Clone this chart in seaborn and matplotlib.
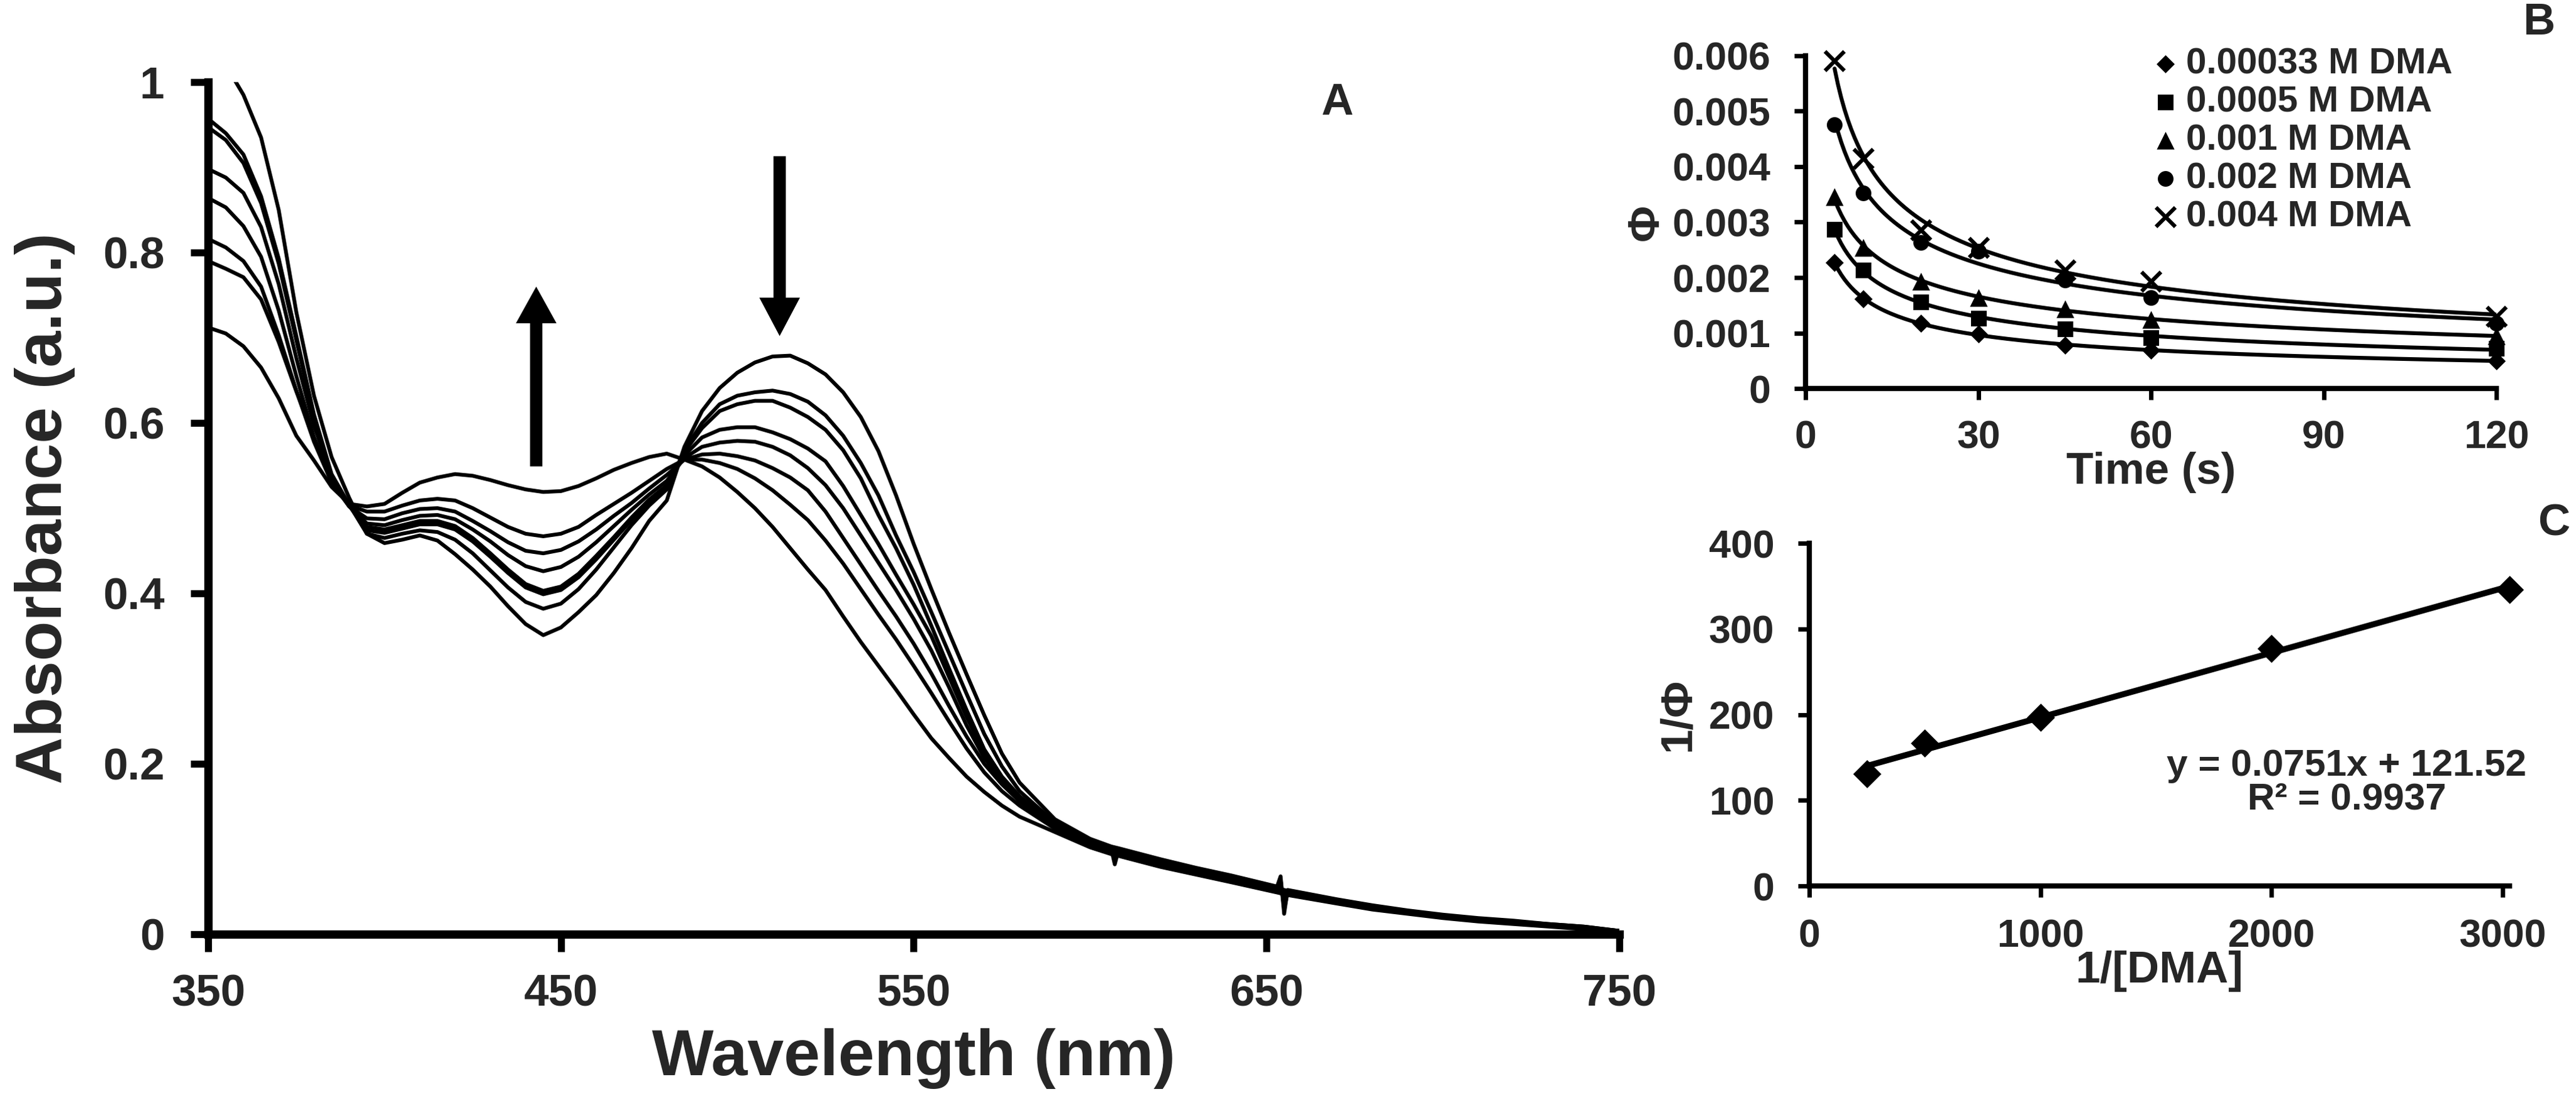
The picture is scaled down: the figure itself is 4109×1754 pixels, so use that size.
import numpy as np
import pandas as pd
import matplotlib
matplotlib.use("Agg")
import matplotlib.pyplot as plt
import seaborn as sns

# =====================================================
# DATA
# =====================================================

# panel A: absorption spectra (8 scans)
wavelength = [350, 355, 360, 365, 370, 375, 380, 385, 390, 395, 400, 405, 410, 415,
              420, 425, 430, 435, 440, 445, 450, 455, 460, 465, 470, 475, 480, 485,
              490, 495, 500, 505, 510, 515, 520, 525, 530, 535, 540, 545, 550, 555,
              560, 565, 570, 575, 580, 590, 600, 606, 607, 608, 620, 630, 640, 653,
              654, 655, 656, 670, 680, 690, 700, 710, 720, 730, 740, 750]

scan_0 = [1.035, 1.02, 0.985, 0.935, 0.850, 0.730, 0.632, 0.560, 0.512,
          0.470, 0.459, 0.463, 0.468, 0.462, 0.446, 0.428, 0.408, 0.385, 0.364, 0.351, 0.360,
          0.378, 0.398, 0.424, 0.453, 0.485, 0.509,
          0.572, 0.614, 0.641, 0.659, 0.671, 0.678, 0.679, 0.670, 0.657, 0.636, 0.607, 0.567,
          0.515, 0.458, 0.405, 0.354, 0.305, 0.257, 0.212, 0.178,
          0.135, 0.112, 0.103, 0.102, 0.101, 0.088, 0.078, 0.069, 0.056, 0.068, 0.024, 0.052,
          0.041, 0.034, 0.028, 0.023, 0.019, 0.016, 0.012, 0.009, 0.004]
scan_1 = [0.957, 0.940, 0.915, 0.866, 0.793, 0.702, 0.610, 0.540, 0.504,
          0.470, 0.465, 0.470, 0.474, 0.472, 0.463, 0.447, 0.427, 0.407, 0.390, 0.382, 0.388,
          0.405, 0.428, 0.454, 0.480, 0.503, 0.522,
          0.568, 0.600, 0.622, 0.632, 0.636, 0.638, 0.634, 0.625, 0.609, 0.585, 0.553, 0.515,
          0.468, 0.425, 0.378, 0.330, 0.282, 0.235, 0.197, 0.168,
          0.131, 0.110, 0.101, 0.100, 0.099, 0.086, 0.076, 0.067, 0.054, 0.053, 0.052, 0.051,
          0.040, 0.033, 0.027, 0.022, 0.018, 0.015, 0.012, 0.009, 0.004]
scan_2 = [0.947, 0.932, 0.905, 0.858, 0.787, 0.697, 0.607, 0.538, 0.503,
          0.474, 0.471, 0.476, 0.481, 0.481, 0.475, 0.461, 0.443, 0.424, 0.407, 0.399, 0.404,
          0.419, 0.440, 0.463, 0.486, 0.508, 0.525,
          0.566, 0.594, 0.614, 0.622, 0.626, 0.626, 0.618, 0.607, 0.592, 0.568, 0.535, 0.492,
          0.453, 0.410, 0.362, 0.312, 0.263, 0.217, 0.185, 0.162,
          0.129, 0.109, 0.100, 0.082, 0.098, 0.085, 0.075, 0.066, 0.053, 0.052, 0.051, 0.050,
          0.039, 0.032, 0.026, 0.022, 0.018, 0.015, 0.011, 0.008, 0.004]
scan_3 = [0.898, 0.888, 0.870, 0.830, 0.763, 0.676, 0.597, 0.538, 0.503,
          0.478, 0.475, 0.480, 0.485, 0.485, 0.479, 0.465, 0.447, 0.428, 0.411, 0.403, 0.408,
          0.423, 0.444, 0.466, 0.489, 0.510, 0.527,
          0.562, 0.583, 0.592, 0.595, 0.595, 0.589, 0.581, 0.570, 0.555, 0.526, 0.492, 0.458,
          0.422, 0.387, 0.350, 0.302, 0.255, 0.213, 0.183, 0.160,
          0.128, 0.108, 0.099, 0.098, 0.097, 0.084, 0.074, 0.065, 0.053, 0.064, 0.030, 0.049,
          0.039, 0.032, 0.026, 0.021, 0.017, 0.014, 0.011, 0.008, 0.003]
scan_4 = [0.864, 0.853, 0.831, 0.795, 0.732, 0.655, 0.583, 0.532, 0.502,
          0.482, 0.480, 0.486, 0.491, 0.492, 0.487, 0.475, 0.461, 0.445, 0.432, 0.426, 0.431,
          0.443, 0.460, 0.479, 0.498, 0.516, 0.532,
          0.559, 0.572, 0.577, 0.579, 0.578, 0.572, 0.562, 0.547, 0.527, 0.500, 0.468, 0.436,
          0.404, 0.370, 0.333, 0.290, 0.245, 0.207, 0.180, 0.158,
          0.127, 0.107, 0.098, 0.097, 0.096, 0.083, 0.073, 0.064, 0.052, 0.051, 0.050, 0.049,
          0.038, 0.031, 0.025, 0.021, 0.017, 0.014, 0.011, 0.008, 0.003]
scan_5 = [0.816, 0.806, 0.790, 0.760, 0.703, 0.638, 0.578, 0.530, 0.502,
          0.488, 0.487, 0.494, 0.499, 0.500, 0.496, 0.485, 0.473, 0.460, 0.450, 0.447, 0.451,
          0.461, 0.475, 0.491, 0.506, 0.523, 0.539,
          0.557, 0.563, 0.564, 0.561, 0.556, 0.547, 0.536, 0.521, 0.496, 0.465, 0.434, 0.403,
          0.373, 0.341, 0.306, 0.268, 0.232, 0.200, 0.176, 0.156,
          0.126, 0.106, 0.097, 0.088, 0.095, 0.082, 0.073, 0.064, 0.051, 0.058, 0.036, 0.048,
          0.038, 0.031, 0.025, 0.021, 0.017, 0.013, 0.010, 0.007, 0.003]
scan_6 = [0.790, 0.781, 0.771, 0.745, 0.695, 0.637, 0.583, 0.531, 0.503,
          0.496, 0.496, 0.503, 0.509, 0.511, 0.509, 0.500, 0.489, 0.478, 0.470, 0.467, 0.470,
          0.478, 0.492, 0.505, 0.518, 0.532, 0.546,
          0.557, 0.557, 0.553, 0.546, 0.535, 0.521, 0.504, 0.486, 0.462, 0.435, 0.405, 0.375,
          0.346, 0.315, 0.283, 0.250, 0.218, 0.190, 0.168, 0.151,
          0.124, 0.105, 0.096, 0.095, 0.094, 0.081, 0.072, 0.063, 0.051, 0.050, 0.049, 0.048,
          0.037, 0.030, 0.025, 0.020, 0.016, 0.013, 0.010, 0.007, 0.003]
scan_7 = [0.712, 0.705, 0.690, 0.665, 0.629, 0.585, 0.556, 0.525, 0.505,
          0.502, 0.505, 0.518, 0.530, 0.536, 0.540, 0.538, 0.533, 0.527, 0.522, 0.519, 0.520,
          0.526, 0.535, 0.545, 0.553, 0.560, 0.564,
          0.557, 0.549, 0.536, 0.519, 0.500, 0.478, 0.453, 0.428, 0.404, 0.373, 0.343, 0.315,
          0.287, 0.258, 0.230, 0.207, 0.185, 0.167, 0.151, 0.138,
          0.120, 0.102, 0.094, 0.093, 0.092, 0.079, 0.070, 0.061, 0.049, 0.048, 0.047, 0.046,
          0.036, 0.029, 0.024, 0.019, 0.015, 0.012, 0.009, 0.006, 0.002]

# panel B: quantum yield vs time
time_s = [5, 10, 20, 30, 45, 60, 120]
phi_00033 = [0.00227, 0.00162, 0.00117, 0.00098, 0.00078, 0.00069, 0.00050]
phi_0005 = [0.00287, 0.00213, 0.00156, 0.00127, 0.00107, 0.00092, 0.00072]
phi_001 = [0.00346, 0.00254, 0.00193, 0.00164, 0.00144, 0.00124, 0.00095]
phi_002 = [0.00476, 0.00352, 0.00263, 0.00248, 0.00196, 0.00164, 0.00118]
phi_004 = [0.00591, 0.00415, 0.00286, 0.00254, 0.00213, 0.00193, 0.00130]
dma_labels = ["0.00033 M DMA", "0.0005 M DMA", "0.001 M DMA", "0.002 M DMA", "0.004 M DMA"]
phi_yticklabels = ["0", "0.001", "0.002", "0.003", "0.004", "0.005", "0.006"]

# panel C: double reciprocal plot
inv_dma = [250, 500, 1000, 2000, 3030]
inv_phi = [131, 167, 197, 277, 346]
fit_text = "y = 0.0751x + 121.52\nR\u00b2 = 0.9937"

# =====================================================
# STYLE
# =====================================================

sns.set_theme(style="ticks")
plt.rcParams["font.family"] = ["Liberation Sans", "DejaVu Sans"]
plt.rcParams["font.weight"] = "bold"
plt.rcParams["axes.labelweight"] = "bold"

fig = plt.figure(figsize=(4109 / 300, 1754 / 300), dpi=300)
fig.patch.set_facecolor("white")

# =====================================================
# PANEL A
# =====================================================

ax_a = fig.add_axes([0.0808, 0.1499, 0.5478, 0.7754])

scans = [scan_0, scan_1, scan_2, scan_3, scan_4, scan_5, scan_6, scan_7]
spec_df = pd.DataFrame({
    "wavelength": wavelength * len(scans),
    "absorbance": [v for s in scans for v in s],
    "scan": [i for i, s in enumerate(scans) for _ in s],
})

sns.lineplot(
    data=spec_df, x="wavelength", y="absorbance", units="scan",
    estimator=None, sort=False, color="black", linewidth=1.45,
    legend=False, ax=ax_a
)

ax_a.set_xlim(350, 750)
ax_a.set_ylim(0, 1)
ax_a.set_xticks([350, 450, 550, 650, 750])
ax_a.set_yticks([0, 0.2, 0.4, 0.6, 0.8, 1.0])
ax_a.set_yticklabels(["0", "0.2", "0.4", "0.6", "0.8", "1"])

ax_a.set_xlabel("Wavelength (nm)", fontsize=25, fontweight="bold")
ax_a.set_ylabel("Absorbance (a.u.)", fontsize=25, fontweight="bold")
ax_a.xaxis.set_label_coords(0.5, -0.11)
ax_a.yaxis.set_label_coords(-0.094, 0.5)

ax_a.tick_params(axis="both", direction="out", length=6.7, width=2.7,
                 labelsize=17, color="black")
ax_a.tick_params(axis="x", pad=8.6)
ax_a.tick_params(axis="y", pad=10)
for side in ["top", "right"]:
    ax_a.spines[side].set_visible(False)
for side in ["left", "bottom"]:
    ax_a.spines[side].set_linewidth(3.2)
    ax_a.spines[side].set_color("black")

# arrows
ax_a.arrow(443, 0.549, 0, 0.211, width=3.5, head_width=11.5, head_length=0.043,
           length_includes_head=True, color="black", linewidth=0)
ax_a.arrow(512, 0.913, 0, -0.211, width=3.5, head_width=11.5, head_length=0.045,
           length_includes_head=True, color="black", linewidth=0)

ax_a.text(670, 0.975, "A", fontsize=17, fontweight="bold", ha="center", va="center")

# =====================================================
# PANEL B
# =====================================================

ax_b = fig.add_axes([0.701, 0.6465, 0.2682, 0.3028])

phi_series = [phi_00033, phi_0005, phi_001, phi_002, phi_004]
markers = ["D", "s", "^", "o", "x"]
sizes = [24, 36, 46, 36, 55]

t_fit = np.linspace(min(time_s), max(time_s), 200)
for phi, mk, sz, lab in zip(phi_series, markers, sizes, dma_labels):
    # power trendline, like the spreadsheet fit
    b, log_a = np.polyfit(np.log(time_s), np.log(phi), 1)
    sns.lineplot(x=t_fit, y=np.exp(log_a) * t_fit ** b, color="black",
                 linewidth=1.5, ax=ax_b, legend=False)
    if mk == "x":
        sns.scatterplot(x=time_s, y=phi, marker=mk, s=sz, color="black",
                        linewidth=1.5, label=lab, ax=ax_b, zorder=3, clip_on=False)
    else:
        sns.scatterplot(x=time_s, y=phi, marker=mk, s=sz, color="black",
                        linewidth=0, label=lab, ax=ax_b, zorder=3, clip_on=False)

ax_b.set_xlim(0, 120)
ax_b.set_ylim(0, 0.006)
ax_b.set_xticks([0, 30, 60, 90, 120])
ax_b.set_yticks([0, 0.001, 0.002, 0.003, 0.004, 0.005, 0.006])
ax_b.set_yticklabels(phi_yticklabels)

ax_b.set_xlabel("Time (s)", fontsize=17, fontweight="bold")
ax_b.set_ylabel("\u03a6", fontsize=17, fontweight="bold")
ax_b.xaxis.set_label_coords(0.5, -0.19)
ax_b.yaxis.set_label_coords(-0.2, 0.5)

ax_b.tick_params(axis="both", direction="out", length=4.4, width=1.7,
                 labelsize=15, color="black")
ax_b.tick_params(axis="x", pad=7.5)
ax_b.tick_params(axis="y", pad=9)
for side in ["top", "right"]:
    ax_b.spines[side].set_visible(False)
for side in ["left", "bottom"]:
    ax_b.spines[side].set_linewidth(2.0)
    ax_b.spines[side].set_color("black")

leg = ax_b.legend(
    loc="upper left", bbox_to_anchor=(0.505, 1.025), frameon=False,
    fontsize=14, handletextpad=0.25, handlelength=0.6, labelspacing=0.12,
    borderaxespad=0, borderpad=0, markerscale=1.0
)
for t in leg.get_texts():
    t.set_fontweight("bold")

fig.text(0.9857, 0.979, "B", fontsize=17, fontweight="bold", ha="center", va="center")

# =====================================================
# PANEL C
# =====================================================

ax_c = fig.add_axes([0.7024, 0.1938, 0.2718, 0.3119])

slope, intercept = np.polyfit(inv_dma, inv_phi, 1)
x_line = np.array([min(inv_dma), max(inv_dma)])
sns.lineplot(x=x_line, y=slope * x_line + intercept, color="black",
             linewidth=2.3, ax=ax_c, legend=False)
sns.scatterplot(x=inv_dma, y=inv_phi, marker="D", s=58, color="black",
                linewidth=0, ax=ax_c, zorder=3, clip_on=False, legend=False)

ax_c.set_xlim(0, 3030)
ax_c.set_ylim(0, 400)
ax_c.set_xticks([0, 1000, 2000, 3000])
ax_c.set_yticks([0, 100, 200, 300, 400])

ax_c.set_xlabel("1/[DMA]", fontsize=17, fontweight="bold")
ax_c.set_ylabel("1/\u03a6", fontsize=17, fontweight="bold")
ax_c.xaxis.set_label_coords(0.5, -0.188)
ax_c.yaxis.set_label_coords(-0.158, 0.5)

ax_c.tick_params(axis="both", direction="out", length=4.4, width=1.7,
                 labelsize=15, color="black")
ax_c.tick_params(axis="x", pad=8)
ax_c.tick_params(axis="y", pad=9)
for side in ["top", "right"]:
    ax_c.spines[side].set_visible(False)
for side in ["left", "bottom"]:
    ax_c.spines[side].set_linewidth(2.0)
    ax_c.spines[side].set_color("black")

ax_c.text(2325, 120, fit_text, fontsize=14.5, fontweight="bold",
          ha="center", va="center", linespacing=1.0)

fig.text(0.9915, 0.523, "C", fontsize=17, fontweight="bold", ha="center", va="center")

plt.savefig("out.png", dpi=300, facecolor="white")
plt.close()
